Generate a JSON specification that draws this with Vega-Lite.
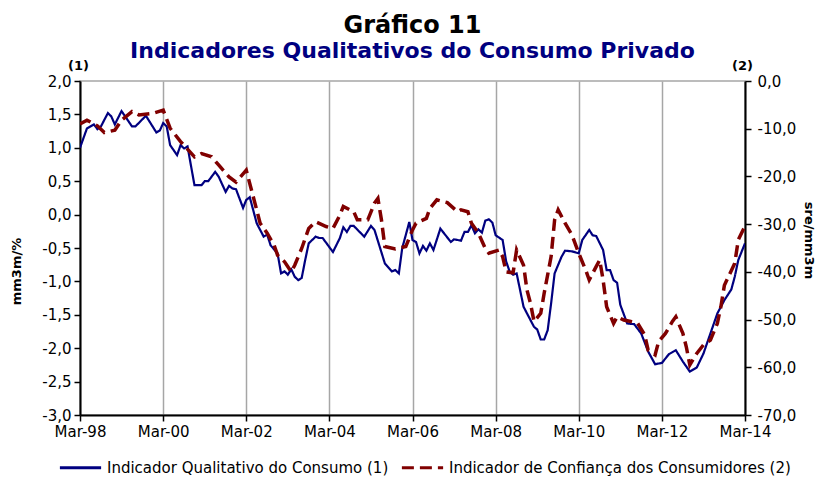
{
  "$schema": "https://vega.github.io/schema/vega-lite/v6.json",
  "width": 665,
  "height": 334,
  "autosize": {"type": "none"},
  "padding": {"left": 80, "top": 81, "right": 77, "bottom": 65},
  "background": "white",
  "title": {
    "text": "Gráfico 11",
    "subtitle": "Indicadores Qualitativos do Consumo Privado",
    "anchor": "middle",
    "frame": "group",
    "font": "DejaVu Sans",
    "fontSize": 24,
    "fontWeight": "bold",
    "color": "#000000",
    "subtitleFont": "DejaVu Sans",
    "subtitleFontSize": 22,
    "subtitleFontWeight": "bold",
    "subtitleColor": "#000080",
    "subtitlePadding": 3,
    "offset": -3
  },
  "config": {
    "locale": {
      "number": {"decimal": ",", "thousands": ".", "grouping": [3], "currency": ["", " €"], "minus": "-"}
    },
    "view": {"stroke": "#a6a6a6", "strokeWidth": 1.5},
    "axis": {
      "labelFont": "DejaVu Sans",
      "labelFontSize": 15,
      "labelColor": "#000000",
      "titleFont": "DejaVu Sans",
      "titleColor": "#000000",
      "titleFontWeight": "bold",
      "domainColor": "#000000",
      "domainWidth": 2,
      "tickColor": "#000000",
      "tickWidth": 1.5,
      "tickSize": 6
    }
  },
  "data": {
    "format": {"parse": {"d": "date:'%Y-%m'"}},
    "values": [
      {"d": "1998-03", "s": "Indicador Qualitativo do Consumo (1)", "v": 1.00},
      {"d": "1998-05", "s": "Indicador Qualitativo do Consumo (1)", "v": 1.29},
      {"d": "1998-07", "s": "Indicador Qualitativo do Consumo (1)", "v": 1.35},
      {"d": "1998-08", "s": "Indicador Qualitativo do Consumo (1)", "v": 1.28},
      {"d": "1998-09", "s": "Indicador Qualitativo do Consumo (1)", "v": 1.32},
      {"d": "1998-11", "s": "Indicador Qualitativo do Consumo (1)", "v": 1.52},
      {"d": "1998-12", "s": "Indicador Qualitativo do Consumo (1)", "v": 1.47},
      {"d": "1999-01", "s": "Indicador Qualitativo do Consumo (1)", "v": 1.35},
      {"d": "1999-03", "s": "Indicador Qualitativo do Consumo (1)", "v": 1.55},
      {"d": "1999-06", "s": "Indicador Qualitativo do Consumo (1)", "v": 1.32},
      {"d": "1999-07", "s": "Indicador Qualitativo do Consumo (1)", "v": 1.32},
      {"d": "1999-10", "s": "Indicador Qualitativo do Consumo (1)", "v": 1.48},
      {"d": "2000-01", "s": "Indicador Qualitativo do Consumo (1)", "v": 1.23},
      {"d": "2000-02", "s": "Indicador Qualitativo do Consumo (1)", "v": 1.26},
      {"d": "2000-03", "s": "Indicador Qualitativo do Consumo (1)", "v": 1.37},
      {"d": "2000-04", "s": "Indicador Qualitativo do Consumo (1)", "v": 1.32},
      {"d": "2000-05", "s": "Indicador Qualitativo do Consumo (1)", "v": 1.04},
      {"d": "2000-07", "s": "Indicador Qualitativo do Consumo (1)", "v": 0.89},
      {"d": "2000-08", "s": "Indicador Qualitativo do Consumo (1)", "v": 1.04},
      {"d": "2000-09", "s": "Indicador Qualitativo do Consumo (1)", "v": 0.99},
      {"d": "2000-10", "s": "Indicador Qualitativo do Consumo (1)", "v": 1.02},
      {"d": "2000-12", "s": "Indicador Qualitativo do Consumo (1)", "v": 0.44},
      {"d": "2001-02", "s": "Indicador Qualitativo do Consumo (1)", "v": 0.44},
      {"d": "2001-03", "s": "Indicador Qualitativo do Consumo (1)", "v": 0.50},
      {"d": "2001-04", "s": "Indicador Qualitativo do Consumo (1)", "v": 0.50},
      {"d": "2001-06", "s": "Indicador Qualitativo do Consumo (1)", "v": 0.64},
      {"d": "2001-07", "s": "Indicador Qualitativo do Consumo (1)", "v": 0.57},
      {"d": "2001-09", "s": "Indicador Qualitativo do Consumo (1)", "v": 0.34},
      {"d": "2001-10", "s": "Indicador Qualitativo do Consumo (1)", "v": 0.43},
      {"d": "2001-11", "s": "Indicador Qualitativo do Consumo (1)", "v": 0.39},
      {"d": "2001-12", "s": "Indicador Qualitativo do Consumo (1)", "v": 0.38},
      {"d": "2002-02", "s": "Indicador Qualitativo do Consumo (1)", "v": 0.10},
      {"d": "2002-03", "s": "Indicador Qualitativo do Consumo (1)", "v": 0.22},
      {"d": "2002-04", "s": "Indicador Qualitativo do Consumo (1)", "v": 0.26},
      {"d": "2002-06", "s": "Indicador Qualitativo do Consumo (1)", "v": -0.13},
      {"d": "2002-08", "s": "Indicador Qualitativo do Consumo (1)", "v": -0.33},
      {"d": "2002-09", "s": "Indicador Qualitativo do Consumo (1)", "v": -0.30},
      {"d": "2002-10", "s": "Indicador Qualitativo do Consumo (1)", "v": -0.46},
      {"d": "2002-12", "s": "Indicador Qualitativo do Consumo (1)", "v": -0.58},
      {"d": "2003-01", "s": "Indicador Qualitativo do Consumo (1)", "v": -0.88},
      {"d": "2003-02", "s": "Indicador Qualitativo do Consumo (1)", "v": -0.85},
      {"d": "2003-03", "s": "Indicador Qualitativo do Consumo (1)", "v": -0.90},
      {"d": "2003-04", "s": "Indicador Qualitativo do Consumo (1)", "v": -0.82},
      {"d": "2003-05", "s": "Indicador Qualitativo do Consumo (1)", "v": -0.93},
      {"d": "2003-06", "s": "Indicador Qualitativo do Consumo (1)", "v": -0.98},
      {"d": "2003-07", "s": "Indicador Qualitativo do Consumo (1)", "v": -0.95},
      {"d": "2003-08", "s": "Indicador Qualitativo do Consumo (1)", "v": -0.68},
      {"d": "2003-09", "s": "Indicador Qualitativo do Consumo (1)", "v": -0.43},
      {"d": "2003-11", "s": "Indicador Qualitativo do Consumo (1)", "v": -0.33},
      {"d": "2003-12", "s": "Indicador Qualitativo do Consumo (1)", "v": -0.35},
      {"d": "2004-01", "s": "Indicador Qualitativo do Consumo (1)", "v": -0.35},
      {"d": "2004-04", "s": "Indicador Qualitativo do Consumo (1)", "v": -0.56},
      {"d": "2004-06", "s": "Indicador Qualitativo do Consumo (1)", "v": -0.35},
      {"d": "2004-07", "s": "Indicador Qualitativo do Consumo (1)", "v": -0.19},
      {"d": "2004-08", "s": "Indicador Qualitativo do Consumo (1)", "v": -0.26},
      {"d": "2004-09", "s": "Indicador Qualitativo do Consumo (1)", "v": -0.17},
      {"d": "2004-10", "s": "Indicador Qualitativo do Consumo (1)", "v": -0.17},
      {"d": "2005-01", "s": "Indicador Qualitativo do Consumo (1)", "v": -0.33},
      {"d": "2005-03", "s": "Indicador Qualitativo do Consumo (1)", "v": -0.17},
      {"d": "2005-04", "s": "Indicador Qualitativo do Consumo (1)", "v": -0.23},
      {"d": "2005-07", "s": "Indicador Qualitativo do Consumo (1)", "v": -0.73},
      {"d": "2005-09", "s": "Indicador Qualitativo do Consumo (1)", "v": -0.85},
      {"d": "2005-10", "s": "Indicador Qualitativo do Consumo (1)", "v": -0.83},
      {"d": "2005-11", "s": "Indicador Qualitativo do Consumo (1)", "v": -0.88},
      {"d": "2005-12", "s": "Indicador Qualitativo do Consumo (1)", "v": -0.50},
      {"d": "2006-02", "s": "Indicador Qualitativo do Consumo (1)", "v": -0.11},
      {"d": "2006-03", "s": "Indicador Qualitativo do Consumo (1)", "v": -0.38},
      {"d": "2006-04", "s": "Indicador Qualitativo do Consumo (1)", "v": -0.41},
      {"d": "2006-05", "s": "Indicador Qualitativo do Consumo (1)", "v": -0.58},
      {"d": "2006-06", "s": "Indicador Qualitativo do Consumo (1)", "v": -0.47},
      {"d": "2006-07", "s": "Indicador Qualitativo do Consumo (1)", "v": -0.54},
      {"d": "2006-08", "s": "Indicador Qualitativo do Consumo (1)", "v": -0.43},
      {"d": "2006-09", "s": "Indicador Qualitativo do Consumo (1)", "v": -0.53},
      {"d": "2006-11", "s": "Indicador Qualitativo do Consumo (1)", "v": -0.21},
      {"d": "2007-02", "s": "Indicador Qualitativo do Consumo (1)", "v": -0.41},
      {"d": "2007-03", "s": "Indicador Qualitativo do Consumo (1)", "v": -0.37},
      {"d": "2007-05", "s": "Indicador Qualitativo do Consumo (1)", "v": -0.39},
      {"d": "2007-06", "s": "Indicador Qualitativo do Consumo (1)", "v": -0.26},
      {"d": "2007-07", "s": "Indicador Qualitativo do Consumo (1)", "v": -0.26},
      {"d": "2007-08", "s": "Indicador Qualitativo do Consumo (1)", "v": -0.16},
      {"d": "2007-09", "s": "Indicador Qualitativo do Consumo (1)", "v": -0.28},
      {"d": "2007-10", "s": "Indicador Qualitativo do Consumo (1)", "v": -0.22},
      {"d": "2007-11", "s": "Indicador Qualitativo do Consumo (1)", "v": -0.27},
      {"d": "2007-12", "s": "Indicador Qualitativo do Consumo (1)", "v": -0.09},
      {"d": "2008-01", "s": "Indicador Qualitativo do Consumo (1)", "v": -0.07},
      {"d": "2008-02", "s": "Indicador Qualitativo do Consumo (1)", "v": -0.12},
      {"d": "2008-03", "s": "Indicador Qualitativo do Consumo (1)", "v": -0.31},
      {"d": "2008-05", "s": "Indicador Qualitativo do Consumo (1)", "v": -0.38},
      {"d": "2008-06", "s": "Indicador Qualitativo do Consumo (1)", "v": -0.70},
      {"d": "2008-07", "s": "Indicador Qualitativo do Consumo (1)", "v": -0.85},
      {"d": "2008-08", "s": "Indicador Qualitativo do Consumo (1)", "v": -0.90},
      {"d": "2008-09", "s": "Indicador Qualitativo do Consumo (1)", "v": -0.88},
      {"d": "2008-11", "s": "Indicador Qualitativo do Consumo (1)", "v": -1.38},
      {"d": "2009-01", "s": "Indicador Qualitativo do Consumo (1)", "v": -1.58},
      {"d": "2009-02", "s": "Indicador Qualitativo do Consumo (1)", "v": -1.68},
      {"d": "2009-03", "s": "Indicador Qualitativo do Consumo (1)", "v": -1.72},
      {"d": "2009-04", "s": "Indicador Qualitativo do Consumo (1)", "v": -1.87},
      {"d": "2009-05", "s": "Indicador Qualitativo do Consumo (1)", "v": -1.87},
      {"d": "2009-06", "s": "Indicador Qualitativo do Consumo (1)", "v": -1.73},
      {"d": "2009-07", "s": "Indicador Qualitativo do Consumo (1)", "v": -1.33},
      {"d": "2009-08", "s": "Indicador Qualitativo do Consumo (1)", "v": -0.88},
      {"d": "2009-10", "s": "Indicador Qualitativo do Consumo (1)", "v": -0.63},
      {"d": "2009-11", "s": "Indicador Qualitativo do Consumo (1)", "v": -0.54},
      {"d": "2010-01", "s": "Indicador Qualitativo do Consumo (1)", "v": -0.55},
      {"d": "2010-03", "s": "Indicador Qualitativo do Consumo (1)", "v": -0.58},
      {"d": "2010-04", "s": "Indicador Qualitativo do Consumo (1)", "v": -0.38},
      {"d": "2010-06", "s": "Indicador Qualitativo do Consumo (1)", "v": -0.23},
      {"d": "2010-07", "s": "Indicador Qualitativo do Consumo (1)", "v": -0.31},
      {"d": "2010-08", "s": "Indicador Qualitativo do Consumo (1)", "v": -0.32},
      {"d": "2010-10", "s": "Indicador Qualitativo do Consumo (1)", "v": -0.53},
      {"d": "2010-11", "s": "Indicador Qualitativo do Consumo (1)", "v": -0.83},
      {"d": "2010-12", "s": "Indicador Qualitativo do Consumo (1)", "v": -0.83},
      {"d": "2011-01", "s": "Indicador Qualitativo do Consumo (1)", "v": -0.98},
      {"d": "2011-02", "s": "Indicador Qualitativo do Consumo (1)", "v": -1.02},
      {"d": "2011-03", "s": "Indicador Qualitativo do Consumo (1)", "v": -1.35},
      {"d": "2011-05", "s": "Indicador Qualitativo do Consumo (1)", "v": -1.63},
      {"d": "2011-07", "s": "Indicador Qualitativo do Consumo (1)", "v": -1.64},
      {"d": "2011-09", "s": "Indicador Qualitativo do Consumo (1)", "v": -1.78},
      {"d": "2011-11", "s": "Indicador Qualitativo do Consumo (1)", "v": -2.05},
      {"d": "2012-01", "s": "Indicador Qualitativo do Consumo (1)", "v": -2.24},
      {"d": "2012-03", "s": "Indicador Qualitativo do Consumo (1)", "v": -2.22},
      {"d": "2012-05", "s": "Indicador Qualitativo do Consumo (1)", "v": -2.09},
      {"d": "2012-07", "s": "Indicador Qualitativo do Consumo (1)", "v": -2.03},
      {"d": "2012-09", "s": "Indicador Qualitativo do Consumo (1)", "v": -2.20},
      {"d": "2012-11", "s": "Indicador Qualitativo do Consumo (1)", "v": -2.35},
      {"d": "2013-01", "s": "Indicador Qualitativo do Consumo (1)", "v": -2.29},
      {"d": "2013-03", "s": "Indicador Qualitativo do Consumo (1)", "v": -2.08},
      {"d": "2013-05", "s": "Indicador Qualitativo do Consumo (1)", "v": -1.78},
      {"d": "2013-07", "s": "Indicador Qualitativo do Consumo (1)", "v": -1.48},
      {"d": "2013-09", "s": "Indicador Qualitativo do Consumo (1)", "v": -1.28},
      {"d": "2013-11", "s": "Indicador Qualitativo do Consumo (1)", "v": -1.12},
      {"d": "2013-12", "s": "Indicador Qualitativo do Consumo (1)", "v": -0.93},
      {"d": "2014-01", "s": "Indicador Qualitativo do Consumo (1)", "v": -0.68},
      {"d": "2014-03", "s": "Indicador Qualitativo do Consumo (1)", "v": -0.43},
      {"d": "1998-03", "s": "Indicador de Confiança dos Consumidores (2)", "v": -9.0},
      {"d": "1998-05", "s": "Indicador de Confiança dos Consumidores (2)", "v": -8.2},
      {"d": "1998-08", "s": "Indicador de Confiança dos Consumidores (2)", "v": -9.4},
      {"d": "1998-10", "s": "Indicador de Confiança dos Consumidores (2)", "v": -10.8},
      {"d": "1999-01", "s": "Indicador de Confiança dos Consumidores (2)", "v": -10.3},
      {"d": "1999-03", "s": "Indicador de Confiança dos Consumidores (2)", "v": -8.2},
      {"d": "1999-06", "s": "Indicador de Confiança dos Consumidores (2)", "v": -6.4},
      {"d": "1999-08", "s": "Indicador de Confiança dos Consumidores (2)", "v": -7.1},
      {"d": "1999-12", "s": "Indicador de Confiança dos Consumidores (2)", "v": -6.8},
      {"d": "2000-03", "s": "Indicador de Confiança dos Consumidores (2)", "v": -6.1},
      {"d": "2000-05", "s": "Indicador de Confiança dos Consumidores (2)", "v": -9.9},
      {"d": "2000-08", "s": "Indicador de Confiança dos Consumidores (2)", "v": -12.7},
      {"d": "2000-12", "s": "Indicador de Confiança dos Consumidores (2)", "v": -15.9},
      {"d": "2001-02", "s": "Indicador de Confiança dos Consumidores (2)", "v": -15.2},
      {"d": "2001-05", "s": "Indicador de Confiança dos Consumidores (2)", "v": -15.9},
      {"d": "2001-07", "s": "Indicador de Confiança dos Consumidores (2)", "v": -17.6},
      {"d": "2001-10", "s": "Indicador de Confiança dos Consumidores (2)", "v": -20.1},
      {"d": "2001-12", "s": "Indicador de Confiança dos Consumidores (2)", "v": -21.2},
      {"d": "2002-03", "s": "Indicador de Confiança dos Consumidores (2)", "v": -18.7},
      {"d": "2002-05", "s": "Indicador de Confiança dos Consumidores (2)", "v": -24.2},
      {"d": "2002-07", "s": "Indicador de Confiança dos Consumidores (2)", "v": -29.8},
      {"d": "2002-09", "s": "Indicador de Confiança dos Consumidores (2)", "v": -31.9},
      {"d": "2002-11", "s": "Indicador de Confiança dos Consumidores (2)", "v": -34.4},
      {"d": "2002-12", "s": "Indicador de Confiança dos Consumidores (2)", "v": -36.5},
      {"d": "2003-02", "s": "Indicador de Confiança dos Consumidores (2)", "v": -37.9},
      {"d": "2003-04", "s": "Indicador de Confiança dos Consumidores (2)", "v": -40.0},
      {"d": "2003-05", "s": "Indicador de Confiança dos Consumidores (2)", "v": -38.6},
      {"d": "2003-07", "s": "Indicador de Confiança dos Consumidores (2)", "v": -35.1},
      {"d": "2003-09", "s": "Indicador de Confiança dos Consumidores (2)", "v": -30.9},
      {"d": "2003-11", "s": "Indicador de Confiança dos Consumidores (2)", "v": -29.5},
      {"d": "2004-02", "s": "Indicador de Confiança dos Consumidores (2)", "v": -30.5},
      {"d": "2004-04", "s": "Indicador de Confiança dos Consumidores (2)", "v": -30.9},
      {"d": "2004-06", "s": "Indicador de Confiança dos Consumidores (2)", "v": -28.1},
      {"d": "2004-07", "s": "Indicador de Confiança dos Consumidores (2)", "v": -26.3},
      {"d": "2004-10", "s": "Indicador de Confiança dos Consumidores (2)", "v": -27.4},
      {"d": "2004-11", "s": "Indicador de Confiança dos Consumidores (2)", "v": -29.1},
      {"d": "2005-02", "s": "Indicador de Confiança dos Consumidores (2)", "v": -29.1},
      {"d": "2005-04", "s": "Indicador de Confiança dos Consumidores (2)", "v": -25.6},
      {"d": "2005-05", "s": "Indicador de Confiança dos Consumidores (2)", "v": -24.6},
      {"d": "2005-06", "s": "Indicador de Confiança dos Consumidores (2)", "v": -29.1},
      {"d": "2005-07", "s": "Indicador de Confiança dos Consumidores (2)", "v": -34.7},
      {"d": "2005-10", "s": "Indicador de Confiança dos Consumidores (2)", "v": -35.2},
      {"d": "2006-01", "s": "Indicador de Confiança dos Consumidores (2)", "v": -34.7},
      {"d": "2006-03", "s": "Indicador de Confiança dos Consumidores (2)", "v": -31.2},
      {"d": "2006-04", "s": "Indicador de Confiança dos Consumidores (2)", "v": -29.8},
      {"d": "2006-07", "s": "Indicador de Confiança dos Consumidores (2)", "v": -28.8},
      {"d": "2006-08", "s": "Indicador de Confiança dos Consumidores (2)", "v": -26.7},
      {"d": "2006-10", "s": "Indicador de Confiança dos Consumidores (2)", "v": -24.9},
      {"d": "2007-01", "s": "Indicador de Confiança dos Consumidores (2)", "v": -25.5},
      {"d": "2007-04", "s": "Indicador de Confiança dos Consumidores (2)", "v": -27.4},
      {"d": "2007-05", "s": "Indicador de Confiança dos Consumidores (2)", "v": -27.0},
      {"d": "2007-07", "s": "Indicador de Confiança dos Consumidores (2)", "v": -27.4},
      {"d": "2007-08", "s": "Indicador de Confiança dos Consumidores (2)", "v": -29.8},
      {"d": "2007-10", "s": "Indicador de Confiança dos Consumidores (2)", "v": -31.9},
      {"d": "2007-12", "s": "Indicador de Confiança dos Consumidores (2)", "v": -35.1},
      {"d": "2008-01", "s": "Indicador de Confiança dos Consumidores (2)", "v": -36.1},
      {"d": "2008-04", "s": "Indicador de Confiança dos Consumidores (2)", "v": -35.4},
      {"d": "2008-05", "s": "Indicador de Confiança dos Consumidores (2)", "v": -36.8},
      {"d": "2008-06", "s": "Indicador de Confiança dos Consumidores (2)", "v": -40.0},
      {"d": "2008-08", "s": "Indicador de Confiança dos Consumidores (2)", "v": -40.2},
      {"d": "2008-09", "s": "Indicador de Confiança dos Consumidores (2)", "v": -35.4},
      {"d": "2008-11", "s": "Indicador de Confiança dos Consumidores (2)", "v": -38.6},
      {"d": "2008-12", "s": "Indicador de Confiança dos Consumidores (2)", "v": -43.8},
      {"d": "2009-01", "s": "Indicador de Confiança dos Consumidores (2)", "v": -46.6},
      {"d": "2009-02", "s": "Indicador de Confiança dos Consumidores (2)", "v": -50.4},
      {"d": "2009-04", "s": "Indicador de Confiança dos Consumidores (2)", "v": -48.7},
      {"d": "2009-05", "s": "Indicador de Confiança dos Consumidores (2)", "v": -44.5},
      {"d": "2009-07", "s": "Indicador de Confiança dos Consumidores (2)", "v": -36.8},
      {"d": "2009-08", "s": "Indicador de Confiança dos Consumidores (2)", "v": -29.1},
      {"d": "2009-09", "s": "Indicador de Confiança dos Consumidores (2)", "v": -27.0},
      {"d": "2009-11", "s": "Indicador de Confiança dos Consumidores (2)", "v": -29.8},
      {"d": "2010-01", "s": "Indicador de Confiança dos Consumidores (2)", "v": -32.3},
      {"d": "2010-03", "s": "Indicador de Confiança dos Consumidores (2)", "v": -36.1},
      {"d": "2010-05", "s": "Indicador de Confiança dos Consumidores (2)", "v": -39.6},
      {"d": "2010-06", "s": "Indicador de Confiança dos Consumidores (2)", "v": -41.7},
      {"d": "2010-08", "s": "Indicador de Confiança dos Consumidores (2)", "v": -38.9},
      {"d": "2010-09", "s": "Indicador de Confiança dos Consumidores (2)", "v": -37.5},
      {"d": "2010-10", "s": "Indicador de Confiança dos Consumidores (2)", "v": -41.7},
      {"d": "2010-11", "s": "Indicador de Confiança dos Consumidores (2)", "v": -47.3},
      {"d": "2011-01", "s": "Indicador de Confiança dos Consumidores (2)", "v": -50.8},
      {"d": "2011-02", "s": "Indicador de Confiança dos Consumidores (2)", "v": -49.4},
      {"d": "2011-04", "s": "Indicador de Confiança dos Consumidores (2)", "v": -50.1},
      {"d": "2011-06", "s": "Indicador de Confiança dos Consumidores (2)", "v": -50.4},
      {"d": "2011-08", "s": "Indicador de Confiança dos Consumidores (2)", "v": -50.8},
      {"d": "2011-10", "s": "Indicador de Confiança dos Consumidores (2)", "v": -53.2},
      {"d": "2011-11", "s": "Indicador de Confiança dos Consumidores (2)", "v": -56.4},
      {"d": "2012-01", "s": "Indicador de Confiança dos Consumidores (2)", "v": -57.4},
      {"d": "2012-02", "s": "Indicador de Confiança dos Consumidores (2)", "v": -54.6},
      {"d": "2012-04", "s": "Indicador de Confiança dos Consumidores (2)", "v": -52.9},
      {"d": "2012-06", "s": "Indicador de Confiança dos Consumidores (2)", "v": -50.4},
      {"d": "2012-07", "s": "Indicador de Confiança dos Consumidores (2)", "v": -49.4},
      {"d": "2012-09", "s": "Indicador de Confiança dos Consumidores (2)", "v": -52.9},
      {"d": "2012-10", "s": "Indicador de Confiança dos Consumidores (2)", "v": -55.7},
      {"d": "2012-11", "s": "Indicador de Confiança dos Consumidores (2)", "v": -59.5},
      {"d": "2013-01", "s": "Indicador de Confiança dos Consumidores (2)", "v": -57.1},
      {"d": "2013-03", "s": "Indicador de Confiança dos Consumidores (2)", "v": -55.3},
      {"d": "2013-05", "s": "Indicador de Confiança dos Consumidores (2)", "v": -54.3},
      {"d": "2013-07", "s": "Indicador de Confiança dos Consumidores (2)", "v": -50.8},
      {"d": "2013-08", "s": "Indicador de Confiança dos Consumidores (2)", "v": -47.3},
      {"d": "2013-09", "s": "Indicador de Confiança dos Consumidores (2)", "v": -42.8},
      {"d": "2013-12", "s": "Indicador de Confiança dos Consumidores (2)", "v": -38.2},
      {"d": "2014-01", "s": "Indicador de Confiança dos Consumidores (2)", "v": -33.3},
      {"d": "2014-03", "s": "Indicador de Confiança dos Consumidores (2)", "v": -30.4}
    ]
  },
  "layer": [
    {
      "transform": [{"filter": "datum.s === 'Indicador Qualitativo do Consumo (1)'"}],
      "mark": {"type": "line", "strokeWidth": 2.2, "clip": true},
      "encoding": {
        "x": {
          "field": "d",
          "type": "temporal",
          "scale": {"domain": [{"year": 1998, "month": 3, "date": 1}, {"year": 2014, "month": 3, "date": 1}]},
          "axis": {
            "orient": "bottom",
            "values": [
              {"year": 1998, "month": 3, "date": 1},
              {"year": 2000, "month": 3, "date": 1},
              {"year": 2002, "month": 3, "date": 1},
              {"year": 2004, "month": 3, "date": 1},
              {"year": 2006, "month": 3, "date": 1},
              {"year": 2008, "month": 3, "date": 1},
              {"year": 2010, "month": 3, "date": 1},
              {"year": 2012, "month": 3, "date": 1},
              {"year": 2014, "month": 3, "date": 1}
            ],
            "format": "%b-%y",
            "grid": true,
            "gridColor": "#a6a6a6",
            "gridWidth": 1.5,
            "labelPadding": 3,
            "labelFlush": false,
            "title": "(1)",
            "titleAngle": 0,
            "titleX": -2,
            "titleY": -350,
            "titleAlign": "center",
            "titleBaseline": "middle",
            "titleFontSize": 13
          }
        },
        "y": {
          "field": "v",
          "type": "quantitative",
          "scale": {"domain": [-3, 2], "nice": false, "zero": false},
          "axis": {
            "orient": "left",
            "values": [-3, -2.5, -2, -1.5, -1, -0.5, 0, 0.5, 1, 1.5, 2],
            "format": ".1f",
            "grid": false,
            "labelPadding": 3,
            "labelFlush": false,
            "title": "mm3m/%",
            "titleFontSize": 13,
            "titleX": -64,
            "titleY": 190,
            "titleAlign": "center",
            "titleBaseline": "middle"
          }
        },
        "color": {
          "field": "s",
          "type": "nominal",
          "scale": {"domain": ["Indicador Qualitativo do Consumo (1)", "Indicador de Confiança dos Consumidores (2)"], "range": ["#000080", "#800000"]},
          "legend": {
            "orient": "none",
            "direction": "horizontal",
            "legendX": -22,
            "legendY": 364,
            "title": null,
            "labelFont": "DejaVu Sans",
            "labelFontSize": 15,
            "labelColor": "#000000",
            "labelLimit": 500,
            "labelOffset": 4,
            "symbolType": "stroke",
            "symbolSize": 1700,
            "symbolStrokeWidth": 3,
            "columnPadding": 6
          }
        },
        "strokeDash": {
          "field": "s",
          "type": "nominal",
          "scale": {"domain": ["Indicador Qualitativo do Consumo (1)", "Indicador de Confiança dos Consumidores (2)"], "range": [[1, 0], [12, 6]]},
          "legend": {
            "orient": "none",
            "direction": "horizontal",
            "legendX": -22,
            "legendY": 364,
            "title": null,
            "labelFont": "DejaVu Sans",
            "labelFontSize": 15,
            "labelColor": "#000000",
            "labelLimit": 500,
            "labelOffset": 4,
            "symbolType": "stroke",
            "symbolSize": 1700,
            "symbolStrokeWidth": 3,
            "columnPadding": 6
          }
        }
      }
    },
    {
      "transform": [{"filter": "datum.s === 'Indicador de Confiança dos Consumidores (2)'"}],
      "mark": {"type": "line", "strokeWidth": 3.5, "clip": true},
      "encoding": {
        "x": {
          "field": "d",
          "type": "temporal",
          "axis": {
            "orient": "top",
            "labels": false,
            "ticks": false,
            "domain": false,
            "grid": false,
            "title": "(2)",
            "titleAngle": 0,
            "titleX": 662,
            "titleY": -16,
            "titleAlign": "center",
            "titleBaseline": "middle",
            "titleFontSize": 13
          }
        },
        "y": {
          "field": "v",
          "type": "quantitative",
          "scale": {"domain": [-70, 0], "nice": false, "zero": false},
          "axis": {
            "orient": "right",
            "values": [-70, -60, -50, -40, -30, -20, -10, 0],
            "format": ".1f",
            "grid": false,
            "labelPadding": 6,
            "labelFlush": false,
            "title": "sre/mm3m",
            "titleAngle": 90,
            "titleFontSize": 13,
            "titleX": 63,
            "titleY": 159,
            "titleAlign": "center",
            "titleBaseline": "middle"
          }
        },
        "color": {"field": "s", "type": "nominal"},
        "strokeDash": {"field": "s", "type": "nominal"}
      }
    }
  ],
  "resolve": {"scale": {"y": "independent"}, "axis": {"x": "independent"}}
}
